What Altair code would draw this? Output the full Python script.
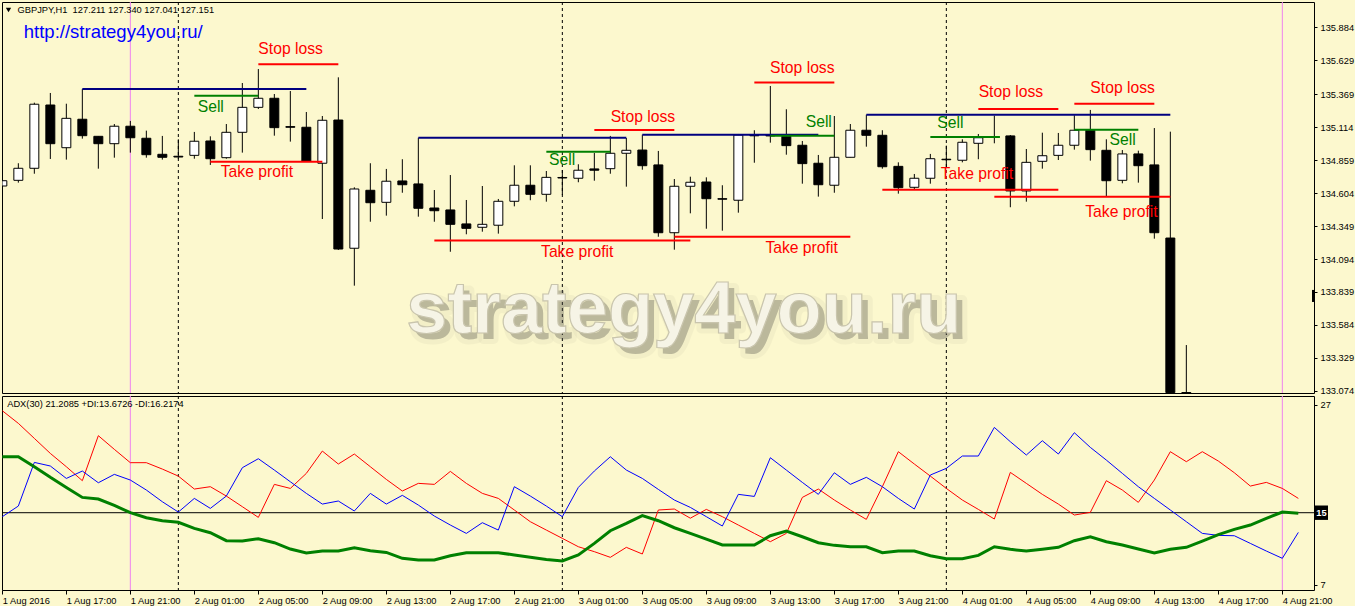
import altair as alt
import pandas as pd

BG = "#FCF8CE"
FONT = "Liberation Sans"

# ---------------- GBPJPY H1 bars (bar 0 = 1 Aug 2016 13:00) ----------------
opens = [134.658, 134.702, 134.795, 135.284, 134.954, 135.174, 135.042, 134.985, 135.120, 135.027,
         134.903, 134.888, 134.895, 135.006, 134.877, 135.073, 135.266, 135.336, 135.117, 135.112,
         134.834, 135.168, 134.177, 134.625, 134.532, 134.697, 134.674, 134.488, 134.473, 134.365,
         134.339, 134.355, 134.540, 134.664, 134.594, 134.724, 134.718, 134.790, 134.792, 134.911,
         134.936, 134.821, 134.297, 134.656, 134.689, 134.560, 134.548, 135.050, 135.049, 135.042,
         134.973, 134.834, 134.664, 134.880, 135.089, 135.050, 134.810, 134.648, 134.718, 134.865,
         134.857, 134.988, 135.039, 135.045, 134.620, 134.849, 134.895, 134.973, 135.089, 134.934,
         134.702, 134.906, 134.821, 134.256, 133.062]
highs = [134.787, 134.834, 135.302, 135.377, 135.294, 135.408, 135.042, 135.137, 135.161, 135.086,
         135.045, 135.019, 135.076, 135.042, 135.137, 135.454, 135.562, 135.369, 135.392, 135.230,
         135.199, 135.498, 134.648, 134.834, 134.790, 134.865, 135.031, 134.627, 134.743, 134.550,
         134.658, 134.558, 134.818, 134.818, 134.774, 134.782, 134.826, 134.913, 135.045, 135.029,
         135.055, 134.929, 134.712, 134.730, 134.725, 134.664, 135.060, 135.089, 135.431, 135.251,
         135.006, 134.898, 135.199, 135.137, 135.209, 135.089, 134.841, 134.751, 134.906, 134.970,
         135.019, 135.060, 135.202, 135.052, 134.944, 135.070, 135.068, 135.205, 135.246, 135.019,
         134.936, 134.931, 135.106, 135.078, 133.429]
lows = [134.494, 134.684, 134.753, 134.867, 134.862, 135.024, 134.792, 134.877, 134.916, 134.877,
        134.862, 134.867, 134.869, 134.821, 134.869, 134.916, 135.253, 135.047, 135.001, 134.844,
        134.403, 134.164, 133.888, 134.382, 134.429, 134.606, 134.421, 134.382, 134.150, 134.285,
        134.305, 134.290, 134.501, 134.548, 134.537, 134.589, 134.687, 134.699, 134.753, 134.653,
        134.784, 134.266, 134.166, 134.447, 134.328, 134.313, 134.452, 134.838, 134.993, 134.900,
        134.676, 134.576, 134.606, 134.880, 134.962, 134.792, 134.599, 134.635, 134.676, 134.797,
        134.841, 134.865, 134.988, 134.494, 134.537, 134.792, 134.859, 134.939, 134.854, 134.579,
        134.679, 134.684, 134.251, 132.950, 132.950]
closes = [134.699, 134.795, 135.290, 134.985, 135.181, 135.047, 134.985, 135.120, 135.031, 134.900,
          134.880, 134.882, 135.004, 134.869, 135.073, 135.266, 135.336, 135.109, 135.112, 134.851,
          135.166, 134.171, 134.635, 134.529, 134.695, 134.668, 134.486, 134.467, 134.362, 134.331,
          134.362, 134.540, 134.664, 134.594, 134.725, 134.720, 134.780, 134.780, 134.911, 134.934,
          134.815, 134.297, 134.656, 134.687, 134.560, 134.556, 135.052, 135.046, 135.045, 134.970,
          134.831, 134.668, 134.880, 135.089, 135.050, 134.807, 134.645, 134.718, 134.869, 134.861,
          134.996, 135.031, 135.035, 134.620, 134.841, 134.892, 134.973, 135.089, 134.939, 134.699,
          134.906, 134.815, 134.297, 133.062, 133.058]

# ---------------- ADX(30) ----------------
adx_main = [21.22, 21.22, 20.11, 18.93, 17.81, 16.70, 16.52, 15.81, 15.00, 14.44,
            14.11, 13.93, 13.26, 12.78, 11.89, 11.85, 12.11, 11.67, 10.96, 10.52,
            10.74, 10.74, 11.11, 10.78, 10.59, 9.93, 9.74, 9.74, 10.22, 10.56,
            10.56, 10.56, 10.30, 10.04, 9.81, 9.63, 10.30, 11.59, 13.00, 13.81,
            14.67, 14.11, 13.33, 12.70, 12.07, 11.41, 11.41, 11.41, 12.44, 12.96,
            12.33, 11.67, 11.37, 11.22, 11.22, 10.56, 10.74, 10.74, 10.22, 9.89,
            9.89, 10.26, 11.22, 10.93, 10.74, 10.93, 11.15, 11.89, 12.33, 11.78,
            11.41, 10.96, 10.52, 10.93, 11.15, 11.85, 12.56, 13.15, 13.63, 14.37,
            15.07, 14.93]
plus_di = [14.56, 15.74, 20.59, 20.19, 18.81, 19.63, 18.33, 19.26, 18.63, 17.52,
           16.22, 15.07, 16.59, 15.48, 16.85, 20.00, 21.00, 19.74, 18.44, 17.15,
           15.96, 16.30, 15.19, 17.15, 15.96, 16.93, 15.85, 14.63, 13.63, 12.70,
           13.89, 13.07, 17.89, 16.85, 15.74, 14.56, 17.81, 19.63, 21.22, 19.74,
           18.81, 17.59, 16.41, 15.59, 14.56, 13.52, 17.04, 16.81, 21.11, 19.74,
           18.37, 17.04, 19.44, 18.15, 18.93, 17.89, 16.59, 15.41, 19.19, 19.93,
           21.30, 21.30, 24.48, 22.89, 21.41, 23.00, 21.52, 23.89, 22.26, 20.85,
           19.37, 17.89, 16.59, 15.30, 14.00, 12.70, 12.48, 12.44, 11.59, 10.74,
           9.93, 12.81]
minus_di = [26.33, 24.93, 23.26, 21.59, 20.11, 18.56, 23.56, 22.04, 20.56, 20.56,
            19.85, 19.07, 17.63, 17.89, 16.85, 15.67, 14.48, 18.15, 17.70, 19.37,
            21.85, 20.41, 21.52, 20.11, 18.70, 17.41, 18.26, 18.15, 19.59, 18.26,
            17.15, 16.59, 15.30, 14.00, 13.07, 12.15, 11.22, 10.67, 10.04, 11.15,
            10.41, 15.30, 15.41, 14.39, 15.37, 14.56, 13.63, 12.70, 11.78, 12.70,
            16.70, 17.63, 16.41, 15.30, 14.26, 17.89, 21.78, 20.41, 19.07, 17.70,
            16.41, 15.37, 14.30, 19.48, 18.26, 17.04, 15.96, 14.74, 15.04, 18.56,
            17.52, 16.15, 18.63, 21.78, 20.67, 21.78, 20.74, 19.44, 17.96, 18.37,
            17.70, 16.59]

# ---------------- trade levels drawn on the chart ----------------
seg_start = [5, 26, 40, 54,
             12, 34, 48, 58, 67,
             16, 37, 47, 61, 67,
             13, 27, 42, 55, 62]
seg_end = [19, 39, 51, 73,
           16, 38, 52, 62.35, 71,
           21, 42, 52, 66, 72,
           20, 43, 53, 66, 73]
seg_price = [135.408, 135.031, 135.055, 135.209,
             135.356, 134.923, 135.047, 135.037, 135.093,
             135.599, 135.091, 135.457, 135.253, 135.294,
             134.846, 134.236, 134.266, 134.630, 134.576]
seg_color = ["#000080"] * 4 + ["#008000"] * 5 + ["#FF0000"] * 10

note_text = ["Stop loss"] * 5 + ["Sell"] * 5 + ["Take profit"] * 5
note_bar = [16.0, 38.02, 47.98, 61.02, 68.0,
            12.21, 34.17, 50.21, 58.43, 69.2,
            13.65, 33.67, 47.69, 58.65, 67.68]
note_price = [135.715, 135.189, 135.570, 135.382, 135.418,
              135.266, 134.859, 135.151, 135.143, 135.014,
              134.764, 134.146, 134.177, 134.749, 134.455]
note_color = ["#FF0000"] * 5 + ["#008000"] * 5 + ["#FF0000"] * 5

price_ticks = [133.074, 133.329, 133.584, 133.839, 134.094, 134.349,
               134.604, 134.859, 135.114, 135.369, 135.629, 135.884]
adx_ticks = [7, 27]
time_tick_bars = list(range(0, 81, 4))
time_tick_labels = ["1 Aug 2016", "1 Aug 17:00", "1 Aug 21:00", "2 Aug 01:00", "2 Aug 05:00",
                    "2 Aug 09:00", "2 Aug 13:00", "2 Aug 17:00", "2 Aug 21:00", "3 Aug 01:00",
                    "3 Aug 05:00", "3 Aug 09:00", "3 Aug 13:00", "3 Aug 17:00", "3 Aug 21:00",
                    "4 Aug 01:00", "4 Aug 05:00", "4 Aug 09:00", "4 Aug 13:00", "4 Aug 17:00",
                    "4 Aug 21:00"]
period_bars = [8, 80]     # violet period separators
day_bars = [11, 35, 59]   # midnight separators

header = "GBPJPY,H1 \u00a0127.211 127.340 127.041 127.151"
adx_header = "ADX(30) 21.2085 +DI:13.6726 -DI:16.2174"
url_text = "http://strategy4you.ru/"
watermark = "strategy4you.ru"
adx_level = 15

# ---------------- frames ----------------
candles = pd.DataFrame({"bar": range(len(opens)), "open": opens, "high": highs,
                        "low": lows, "close": closes})
adx = pd.DataFrame({"bar": range(len(adx_main)), "adx": adx_main,
                    "pdi": plus_di, "mdi": minus_di})
segs = pd.DataFrame({"x1": seg_start, "x2": seg_end, "p": seg_price, "c": seg_color})
notes = pd.DataFrame({"bar": note_bar, "p": note_price, "t": note_text, "c": note_color})

W = 1312
H_MAIN = 391
H_ADX = 194
x_scale = alt.Scale(domain=[-0.021, 81.979], nice=False, zero=False, clamp=True)
p_scale = alt.Scale(domain=[133.0585, 136.080], nice=False, zero=False)
a_scale = alt.Scale(domain=[6.41, 27.97], nice=False, zero=False)

PRICE_AXIS = alt.Axis(orient="right", values=price_ticks, format=".3f", title=None,
                      grid=False, domain=False, tickSize=3, tickColor="black",
                      labelColor="black", labelFont=FONT, labelFontSize=9.3,
                      labelPadding=3, labelOverlap=False)
ADX_AXIS = alt.Axis(orient="right", values=adx_ticks, format="d", title=None,
                    grid=False, domain=False, tickSize=3, tickColor="black",
                    labelColor="black", labelFont=FONT, labelFontSize=9.3,
                    labelPadding=3, labelOverlap=False)
label_expr = ("[" + ",".join("'" + s + "'" for s in time_tick_labels) + "]"
              "[round(datum.value / 4)]")
TIME_AXIS = alt.Axis(orient="bottom", values=time_tick_bars, labelExpr=label_expr,
                     title=None, grid=False, domain=False, tickSize=4, tickColor="black",
                     labelColor="black", labelFont=FONT, labelFontSize=9.3,
                     labelAlign="left", labelPadding=2, labelOverlap=False, labelFlush=False)


def XT(field):
    return alt.X(field, type="quantitative", scale=x_scale, axis=None)


def XB(field):
    return alt.X(field, type="quantitative", scale=x_scale, axis=TIME_AXIS)


def YP(field):
    return alt.Y(field, type="quantitative", scale=p_scale, axis=PRICE_AXIS)


def YA(field):
    return alt.Y(field, type="quantitative", scale=a_scale, axis=ADX_AXIS)


def vlines(xenc):
    per = alt.Chart(pd.DataFrame({"bar": period_bars})).mark_rule(
        color="#EE82EE", strokeWidth=1).encode(x=xenc("bar"))
    day = alt.Chart(pd.DataFrame({"bar": day_bars})).mark_rule(
        color="black", strokeWidth=1, strokeDash=[3, 3]).encode(x=xenc("bar"))
    return [per, day]


# ---------------- price panel ----------------
wm_df = pd.DataFrame({"bar": [42.6], "p": [133.522], "t": [watermark]})
wm_shadow = alt.Chart(wm_df).mark_text(
    font=FONT, fontSize=74, fontWeight="bold", align="center", baseline="alphabetic",
    color="#55544c", opacity=0.38, stroke="#55544c", strokeWidth=10, strokeOpacity=0.12,
    strokeJoin="round", dx=6, dy=6).encode(x=XT("bar"), y=YP("p"), text="t:N")
wm_face = alt.Chart(wm_df).mark_text(
    font=FONT, fontSize=74, fontWeight="bold", align="center", baseline="alphabetic",
    color="#f6f4e6", stroke="#c9c5ad", strokeWidth=1.2).encode(
    x=XT("bar"), y=YP("p"), text="t:N")

wicks = alt.Chart(candles).mark_rule(color="black", strokeWidth=1, clip=True).encode(
    x=XT("bar"), y=YP("low"), y2="high:Q")
# candle bodies span 9 px around each bar (0.28 bar widths either side)
bodies = alt.Chart(candles).transform_calculate(
    b0="datum.bar - 0.28", b1="datum.bar + 0.28"
).mark_rect(stroke="black", strokeWidth=1, clip=True).encode(
    x=XT("b0:Q"), x2="b1:Q", y=YP("open"), y2="close:Q",
    fill=alt.condition("datum.close >= datum.open", alt.value("white"), alt.value("black")))
levels = alt.Chart(segs).mark_rule(strokeWidth=2).encode(
    x=XT("x1"), x2="x2:Q", y=YP("p"), color=alt.Color("c:N", scale=None))
labels = alt.Chart(notes).mark_text(font=FONT, fontSize=15.7, align="left",
                                    baseline="middle").encode(
    x=XT("bar"), y=YP("p"), text="t:N", color=alt.Color("c:N", scale=None))
head = alt.Chart(pd.DataFrame({"t": [header]})).mark_text(
    font=FONT, fontSize=9.3, align="left", baseline="middle", color="black").encode(
    x=alt.value(15.5), y=alt.value(8.2), text="t:N")
tri = alt.Chart(pd.DataFrame({"k": [0]})).mark_point(
    shape="triangle-down", filled=True, color="black", size=28, opacity=1).encode(
    x=alt.value(6.5), y=alt.value(8))
url = alt.Chart(pd.DataFrame({"t": [url_text]})).mark_text(
    font=FONT, fontSize=18.5, align="left", baseline="middle", color="#0000FF").encode(
    x=alt.value(21.8), y=alt.value(29.5), text="t:N")
bid_mark = alt.Chart(pd.DataFrame({"a": [133.855], "b": [133.762]})).mark_rule(
    color="black", strokeWidth=3).encode(x=alt.value(W - 0.5), y=YP("a"), y2="b:Q")

top = alt.layer(*vlines(XT), wm_shadow, wm_face, wicks, bodies, levels, labels,
                head, tri, url, bid_mark).properties(width=W, height=H_MAIN)

# ---------------- ADX panel ----------------
lvl = alt.Chart(pd.DataFrame({"v": [adx_level]})).mark_rule(
    color="black", strokeWidth=1).encode(y=YA("v"))
mdi_line = alt.Chart(adx).mark_line(color="#FF0000", strokeWidth=1, clip=True).encode(
    x=XB("bar"), y=YA("mdi"))
pdi_line = alt.Chart(adx).mark_line(color="#0000FF", strokeWidth=1, clip=True).encode(
    x=XB("bar"), y=YA("pdi"))
adx_line = alt.Chart(adx).mark_line(color="#008000", strokeWidth=3, clip=True,
                                    strokeCap="butt").encode(x=XB("bar"), y=YA("adx"))
adx_head = alt.Chart(pd.DataFrame({"t": [adx_header]})).mark_text(
    font=FONT, fontSize=9.3, align="left", baseline="middle", color="black").encode(
    x=alt.value(5.2), y=alt.value(8.3), text="t:N")
lvl_box_df = pd.DataFrame({"v1": [adx_level + 0.8], "v2": [adx_level - 0.8],
                           "v": [adx_level], "t": [str(adx_level)]})
lvl_box = alt.Chart(lvl_box_df).mark_rect(color="black").encode(
    x=alt.value(W + 1), x2=alt.value(W + 14), y=YA("v1"), y2="v2:Q")
lvl_txt = alt.Chart(lvl_box_df).mark_text(
    font=FONT, fontSize=9.3, fontWeight="bold", align="center", baseline="middle",
    color="white").encode(x=alt.value(W + 7.5), y=YA("v"), text="t:N")

bottom = alt.layer(*vlines(XB), lvl, mdi_line, pdi_line, adx_line, adx_head,
                   lvl_box, lvl_txt).properties(width=W, height=H_ADX)

chart = alt.vconcat(top, bottom, spacing=3, bounds="flush").properties(
    background=BG, padding={"left": 1, "top": 1, "right": 0, "bottom": 0}
).configure_view(stroke="black", strokeWidth=1, fill=None)

chart.save("out.html", embed_options={"renderer": "svg", "actions": False})
